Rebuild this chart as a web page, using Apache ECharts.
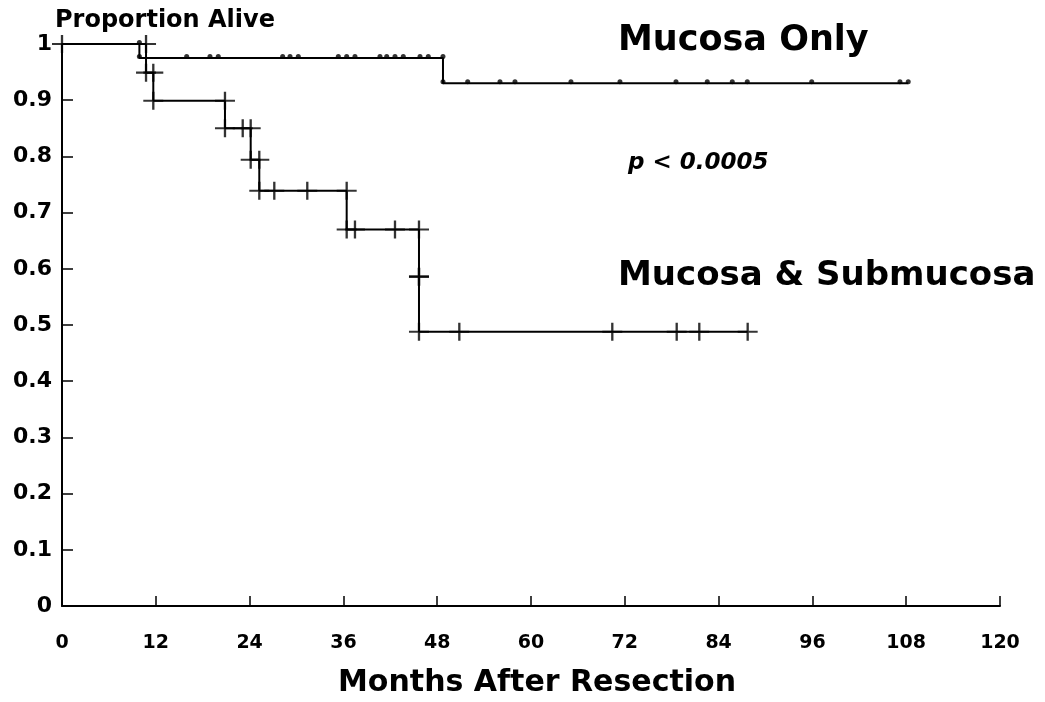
<!DOCTYPE html>
<html>
<head>
<meta charset="utf-8">
<title>Proportion Alive</title>
<script src="https://cdn.jsdelivr.net/npm/echarts@6/dist/echarts.min.js"></script>
<style>
html, body { margin: 0; padding: 0; background: #fff; }
#main { width: 1045px; height: 702px; }
</style>
</head>
<body>
<div id="main"></div>
<script>
// axis ranges
const xMin = 0, xMax = 120, xStep = 12
const yMin = 0, yMax = 1, yStep = 0.1

// Mucosa & Submucosa: deaths (time, survival after) and censored times
const subEventT = [10.75, 11.68, 20.85, 24.14, 25.24, 36.42, 45.67, 45.67]
const subEventS = [0.949, 0.899, 0.850, 0.794, 0.739, 0.670, 0.586, 0.488]
const subCensorT = [23.12, 27.16, 31.38, 37.48, 42.6, 50.83, 70.4, 78.64, 81.53, 87.72]

// Mucosa Only
const onlyEventT = [9.9, 48.74]
const onlyEventS = [0.975, 0.930]
const onlyCensorT = [15.95, 18.93, 19.99, 28.23, 29.17, 30.23, 35.35, 36.42, 37.48,
  40.68, 41.54, 42.6, 43.66, 45.8, 46.86, 51.9, 56.03, 57.95, 65.11, 71.38, 78.55,
  82.55, 85.75, 87.67, 95.91, 107.2, 108.26]

const font = 'DejaVu Sans'

function levelAt(times, surv, t) {
  let s = 1
  for (let i = 0; i < times.length; i++) {
    if (times[i] <= t) s = surv[i]
  }
  return s
}

// step line: start at 1, each death, then flat to the last censored time
function stepData(times, surv, censor) {
  const d = [[0, 1]]
  for (let i = 0; i < times.length; i++) d.push([times[i], surv[i]])
  const last = Math.max(...censor)
  d.push([last, levelAt(times, surv, last)])
  return d
}

// marks at both corners of each drop plus every censored time
function markData(times, surv, censor, withStart) {
  const d = withStart ? [[0, 1]] : []
  for (let i = 0; i < times.length; i++) {
    d.push([times[i], i === 0 ? 1 : surv[i - 1]])
    d.push([times[i], surv[i]])
  }
  censor.forEach(t => d.push([t, levelAt(times, surv, t)]))
  return d
}

const chart = echarts.init(document.getElementById('main'))

const option = {
  backgroundColor: '#fff',
  animation: false,
  grid: { left: 62, right: 45, top: 44, bottom: 96 },
  xAxis: {
    type: 'value',
    min: xMin,
    max: xMax,
    interval: xStep,
    splitLine: { show: false },
    axisLine: { lineStyle: { color: '#000', width: 2 } },
    axisTick: { inside: true, length: 10, lineStyle: { color: '#000', width: 1.5 } },
    axisLabel: { color: '#000', fontFamily: font, fontWeight: 'bold', fontSize: 19, margin: 28 }
  },
  yAxis: {
    type: 'value',
    min: yMin,
    max: yMax,
    interval: yStep,
    splitLine: { show: false },
    axisLine: { show: true, lineStyle: { color: '#000', width: 2 } },
    axisTick: { show: true, inside: true, length: 11, lineStyle: { color: '#000', width: 1.5 } },
    axisLabel: { color: '#000', fontFamily: font, fontWeight: 'bold', fontSize: 22, margin: 10 }
  },
  series: [
    {
      name: 'Mucosa Only',
      type: 'line',
      step: 'end',
      clip: false,
      showSymbol: false,
      lineStyle: { color: '#000', width: 2 },
      data: stepData(onlyEventT, onlyEventS, onlyCensorT)
    },
    {
      name: 'Mucosa Only censored',
      type: 'scatter',
      clip: false,
      symbol: 'circle',
      symbolSize: 5,
      symbolOffset: [0, -1.5],
      itemStyle: { color: '#000' },
      data: markData(onlyEventT, onlyEventS, onlyCensorT, false)
    },
    {
      name: 'Mucosa & Submucosa',
      type: 'line',
      step: 'end',
      clip: false,
      showSymbol: false,
      lineStyle: { color: '#000', width: 2 },
      data: stepData(subEventT, subEventS, subCensorT)
    },
    {
      name: 'Mucosa & Submucosa marks',
      type: 'scatter',
      clip: false,
      symbol: 'path://M0,9 L20,9 M10,0 L10,18',
      symbolSize: [20, 18],
      itemStyle: { color: 'none', borderColor: '#000', borderWidth: 2.2 },
      data: markData(subEventT, subEventS, subCensorT, true)
    }
  ],
  graphic: [
    {
      type: 'text', x: 55, y: 21,
      style: { text: 'Proportion Alive', fontFamily: font, fontWeight: 'bold', fontSize: 24, fill: '#000', verticalAlign: 'middle' }
    },
    {
      type: 'text', x: 618, y: 41,
      style: { text: 'Mucosa Only', fontFamily: font, fontWeight: 'bold', fontSize: 35, fill: '#000', verticalAlign: 'middle' }
    },
    {
      type: 'text', x: 628, y: 163,
      style: { text: 'p < 0.0005', fontFamily: font, fontWeight: 'bold', fontStyle: 'italic', fontSize: 23, fill: '#000', verticalAlign: 'middle' }
    },
    {
      type: 'text', x: 618, y: 276,
      style: { text: 'Mucosa & Submucosa', fontFamily: font, fontWeight: 'bold', fontSize: 34, fill: '#000', verticalAlign: 'middle' }
    },
    {
      type: 'text', x: 537, y: 683,
      style: { text: 'Months After Resection', fontFamily: font, fontWeight: 'bold', fontSize: 30, fill: '#000', align: 'center', verticalAlign: 'middle' }
    }
  ]
}

chart.setOption(option)
</script>
</body>
</html>
